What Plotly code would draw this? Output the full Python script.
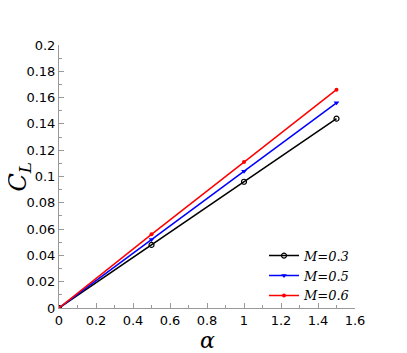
import plotly.graph_objects as go

alpha = [0, 0.5, 1.0, 1.5]
cl_m03 = [0, 0.048, 0.096, 0.144]
cl_m05 = [0, 0.052, 0.104, 0.156]
cl_m06 = [0, 0.056, 0.111, 0.166]
names = ["<i>M=0.3</i>", "<i>M=0.5</i>", "<i>M=0.6</i>"]
xticks = [0, 0.2, 0.4, 0.6, 0.8, 1, 1.2, 1.4, 1.6]
yticks = [0, 0.02, 0.04, 0.06, 0.08, 0.1, 0.12, 0.14, 0.16, 0.18, 0.2]

fig = go.Figure()
fig.add_trace(go.Scatter(x=alpha, y=cl_m03, name=names[0], mode="lines+markers",
                         line=dict(color="black", width=1.5),
                         marker=dict(symbol="circle-open", size=5, color="black", line=dict(width=1.2))))
fig.add_trace(go.Scatter(x=alpha, y=cl_m05, name=names[1], mode="lines+markers",
                         line=dict(color="#0000ff", width=1.5),
                         marker=dict(symbol="triangle-down", size=5, color="#0000ff")))
fig.add_trace(go.Scatter(x=alpha, y=cl_m06, name=names[2], mode="lines+markers",
                         line=dict(color="#ff0000", width=1.5),
                         marker=dict(symbol="circle", size=4, color="#ff0000")))

axis_common = dict(showgrid=False, zeroline=False, showline=True, linecolor="#999999", linewidth=1,
                   ticks="inside", ticklen=5, tickcolor="#999999", automargin=False,
                   tickfont=dict(family="DejaVu Sans", size=13, color="black"))
fig.update_xaxes(range=[0, 1.6], tickvals=xticks, ticktext=[f"{v:g}" for v in xticks],
                 minor=dict(dtick=0.1, ticks="inside", ticklen=3, tickcolor="#999999"),
                 **axis_common)
fig.update_yaxes(range=[0, 0.2], tickvals=yticks, ticktext=[f"{v:g}" for v in yticks],
                 minor=dict(dtick=0.01, ticks="inside", ticklen=3, tickcolor="#999999"),
                 **axis_common)

fig.add_annotation(text="<i>α</i>", xref="paper", yref="paper", x=0.5, y=0, yshift=-18,
                   xanchor="center", yanchor="top", showarrow=False,
                   font=dict(family="DejaVu Serif", size=22, color="black"))
fig.add_annotation(text="<i>C<sub>L</sub></i>", xref="paper", yref="paper", x=0, y=0.5, xshift=-40,
                   xanchor="center", yanchor="middle", showarrow=False, textangle=-90,
                   font=dict(family="DejaVu Serif", size=24, color="black"))

fig.update_layout(width=399, height=345, margin=dict(l=51, r=52, t=37, b=45),
                  plot_bgcolor="white", paper_bgcolor="white",
                  legend=dict(x=1.0, y=-0.01, xanchor="right", yanchor="bottom",
                              font=dict(family="DejaVu Serif", size=13, color="black"),
                              bgcolor="rgba(0,0,0,0)", tracegroupgap=0, itemwidth=30))

fig.write_html("out.html")
